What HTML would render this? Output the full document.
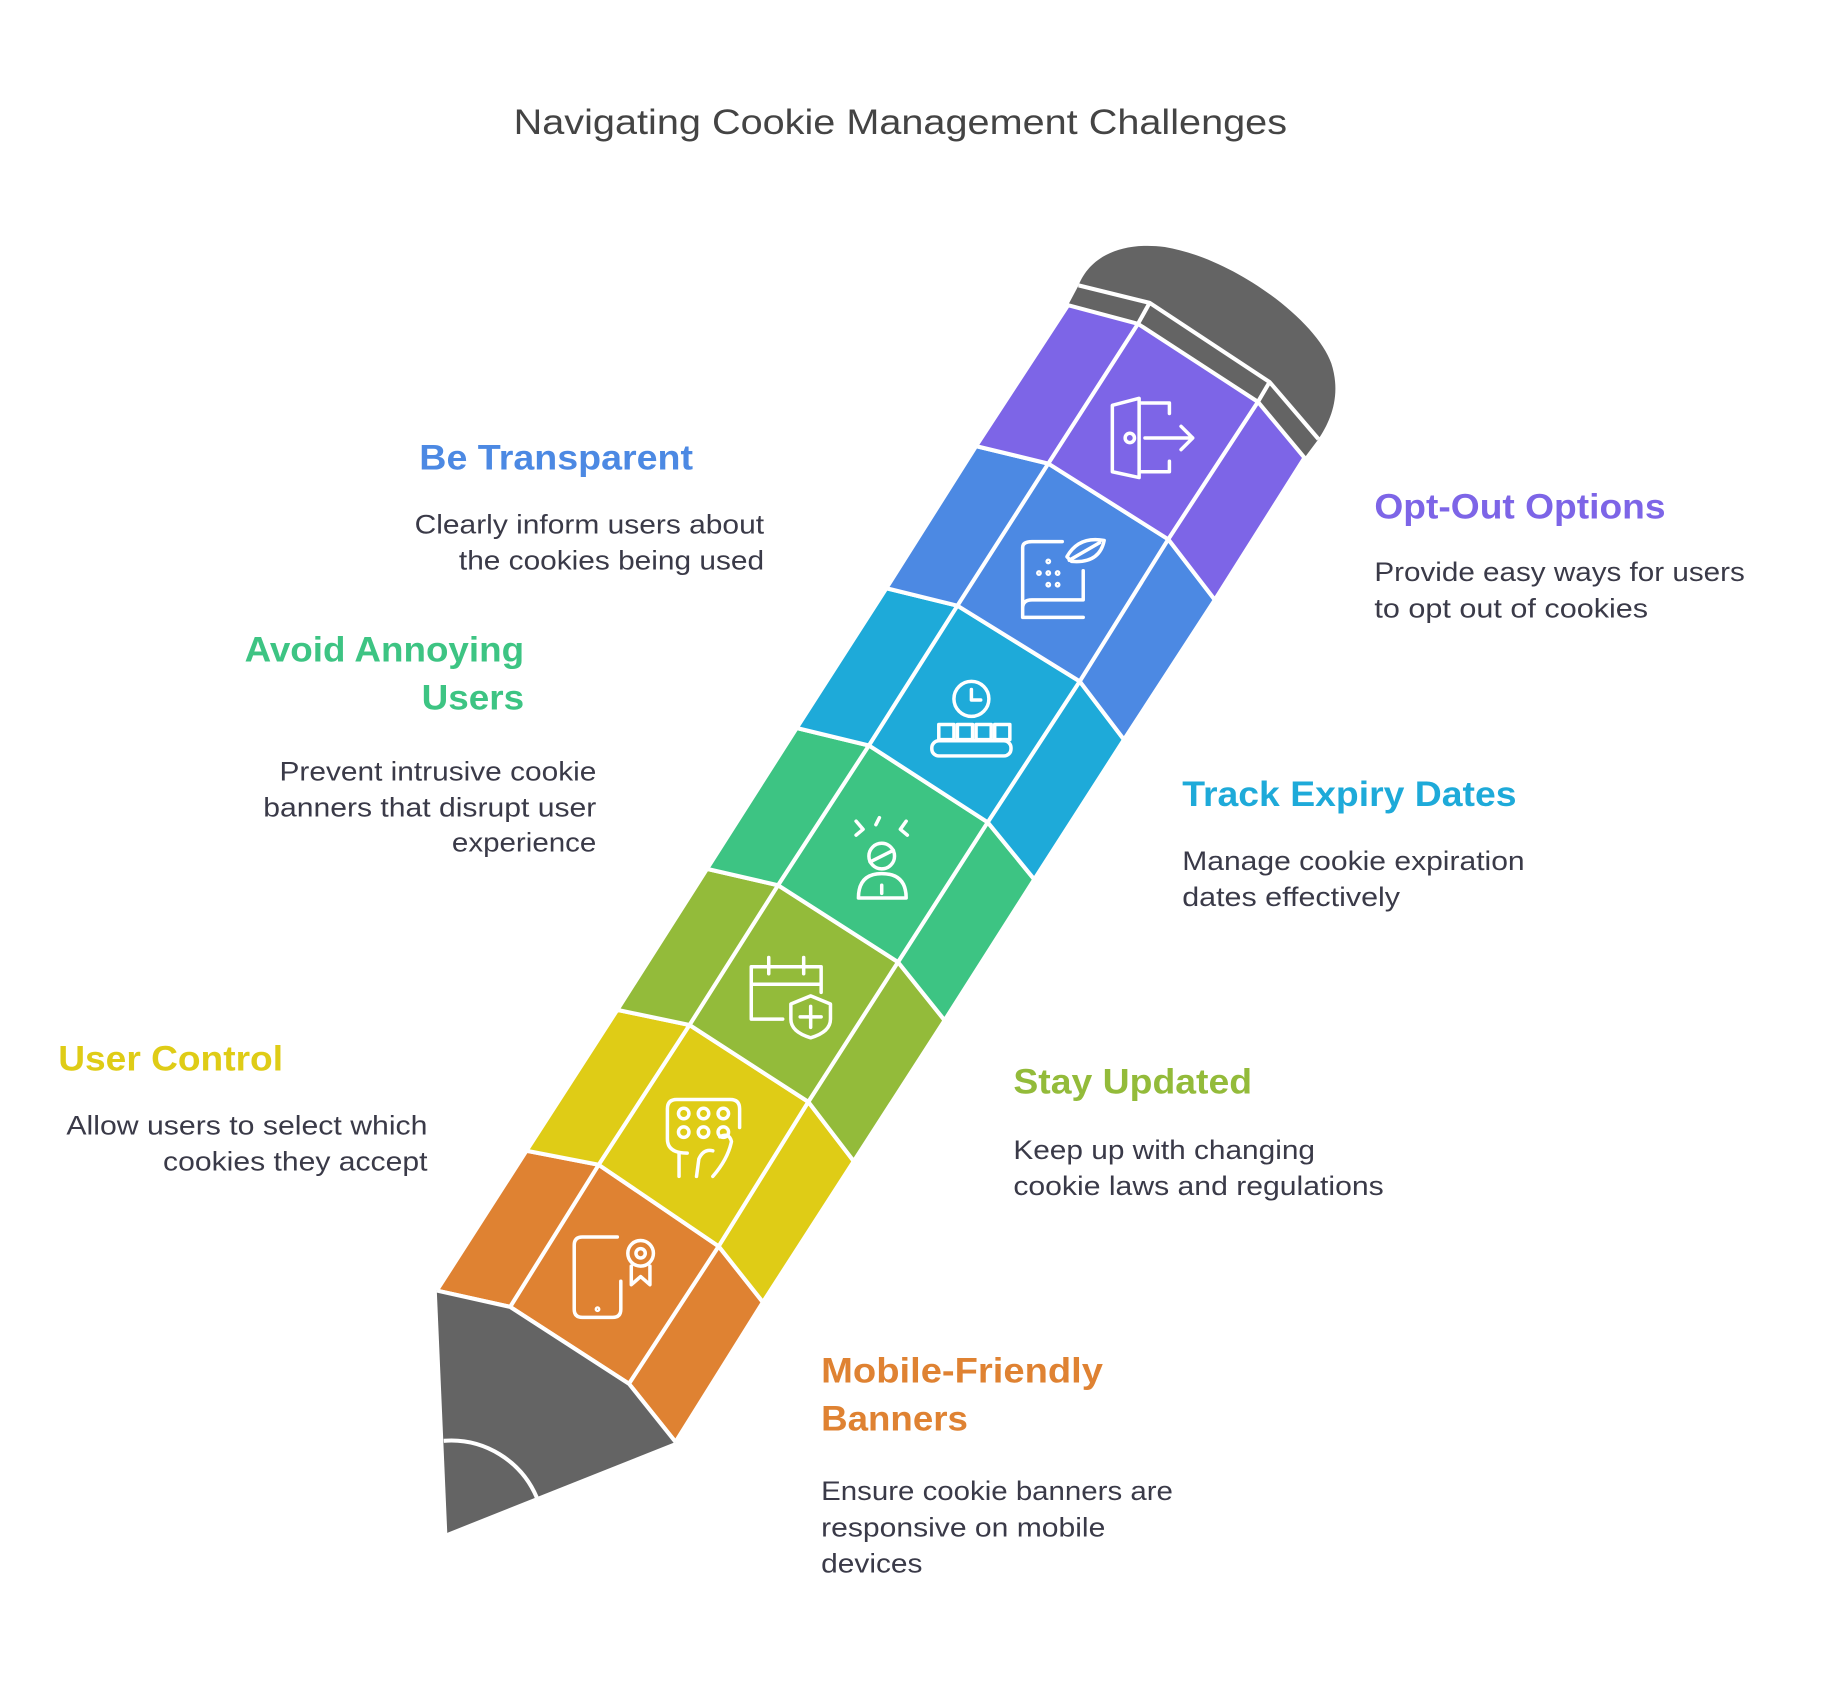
<!DOCTYPE html>
<html><head><meta charset="utf-8"><style>
html,body{margin:0;padding:0;background:#fff;}
svg{display:block;}
text{font-family:"Liberation Sans",sans-serif;}
.h{font-weight:bold;font-size:30px;}
.b{font-size:23px;fill:#3a3a48;}
</style></head><body>
<svg width="1824" height="1681" viewBox="0 0 1566 1443.2" xmlns="http://www.w3.org/2000/svg">
<rect width="1566" height="1444" fill="#fff"/>
<path d="M926,245 C935,222 960,207 1000,212 C1060,222 1130,275 1143,312 C1152,340 1142,362 1132,377 L1090,328 L987,260 Z" fill="#646464"/>
<polygon points="917,262 977,278 1080,345 1120,393 1132,377 1090,328 987,260 926,245" fill="#646464"/>
<g stroke="#fff" stroke-width="3.5" fill="none" stroke-linejoin="round">
<polyline points="926,245 987,260 1090,328 1132,377"/>
<line x1="977" y1="278" x2="987" y2="260"/><line x1="1080" y1="345" x2="1090" y2="328"/>
</g>
<g stroke="#fff" stroke-width="3.5" stroke-linejoin="round">
<polygon fill="#df8232" points="375,1108 438,1122 540,1188 580,1238 655,1118 617,1070 514,1000 452,988"/>
<polygon fill="#dfcc16" points="452,988 514,1000 617,1070 655,1118 733,997 694,946 592,880 530,867"/>
<polygon fill="#93bb3a" points="530,867 592,880 694,946 733,997 811,876 771,826 668,760 607,746"/>
<polygon fill="#3dc483" points="607,746 668,760 771,826 811,876 888,755 848,706 746,640 684,625"/>
<polygon fill="#1eaad9" points="684,625 746,640 848,706 888,755 965,635 927,585 822,520 761,505"/>
<polygon fill="#4c89e3" points="761,505 822,520 927,585 965,635 1043,515 1003,463 900,398 838,383"/>
<polygon fill="#7d65e7" points="838,383 900,398 1003,463 1043,515 1120,393 1080,345 977,278 917,262"/>
</g>
<g stroke="#fff" stroke-width="3.5" fill="none">
<polyline points="438,1122 514,1000 592,880 668,760 746,640 822,520 900,398 977,278"/>
<polyline points="540,1188 617,1070 694,946 771,826 848,706 927,585 1003,463 1080,345"/>
</g>
<polygon fill="#646464" points="375,1108 438,1122 540,1188 580,1238 384,1316"/>
<g stroke="#fff" stroke-width="3.5" fill="none">
<polyline points="375,1108 438,1122 540,1188 580,1238"/>
<path d="M381,1237 A80,80 0 0 1 461,1286"/>
</g>
<g stroke="#fff" stroke-width="3" fill="none" stroke-linecap="round" stroke-linejoin="round">
<path d="M955,348 L978,342 L978,410 L955,405 Z"/><circle cx="970" cy="376" r="4"/>
<path d="M980,346 L1004,346 L1004,355 M1004,396 L1004,405 L980,405 M983,376 L1024,376 M1014,366 L1024,376 L1014,386"/>
<path d="M878,470 L878,530 L930,530 M878,522 Q878,515 886,515 L930,515 L930,490 M878,470 Q878,465 886,465 L912,465"/>
<path d="M916,478 Q926,460 948,464 Q944,484 920,482 Z M918,481 L944,466"/>
<circle cx="900" cy="482" r="1" /><circle cx="892" cy="492" r="1"/><circle cx="900" cy="492" r="1"/><circle cx="908" cy="492" r="1"/><circle cx="900" cy="502" r="1"/><circle cx="908" cy="502" r="1"/>
<circle cx="834" cy="600" r="15"/><path d="M834,592 L834,601 L842,601"/>
<rect x="800" y="636" width="68" height="13" rx="6"/>
<rect x="806" y="622" width="13" height="13"/><rect x="822" y="622" width="13" height="13"/><rect x="838" y="622" width="13" height="13"/><rect x="854" y="622" width="13" height="13"/>
<circle cx="757" cy="735" r="11"/><path d="M747,740 L767,730"/>
<path d="M737,771 Q737,750 757,750 Q778,750 778,771 Z M757,760 L757,767"/>
<path d="M735,705 L741,712 L735,717 M755,702 L752,708 M778,705 L773,712 L779,717"/>
<path d="M672,875 L645,875 L645,830 L705,830 L705,852 M645,845 L705,845 M660,822 L660,836 M690,822 L690,836"/>
<path d="M696,855 L713,862 L713,875 Q713,886 696,891 Q679,886 679,875 L679,862 Z M696,864 L696,882 M687,873 L705,873"/>
<path d="M590,990 Q573,990 573,978 L573,952 Q573,944 581,944 L627,944 Q635,944 635,952 L635,968"/>
<circle cx="587" cy="956" r="4.5"/><circle cx="604" cy="956" r="4.5"/><circle cx="621" cy="956" r="4.5"/>
<circle cx="587" cy="972" r="4.5"/><circle cx="604" cy="972" r="4.5"/><circle cx="621" cy="972" r="4.5"/>
<path d="M583,990 L583,1010 M598,1010 L600,995 Q604,986 612,988 M612,1010 Q625,995 628,980 Q626,972 618,976"/>
<path d="M530,1062 L500,1062 Q493,1062 493,1069 L493,1124 Q493,1131 500,1131 L526,1131 Q533,1131 533,1124 L533,1100"/>
<circle cx="513" cy="1124" r="1"/>
<circle cx="550" cy="1076" r="11"/><circle cx="550" cy="1076" r="4"/>
<path d="M542,1087 L542,1103 L550,1096 L558,1103 L558,1087"/>
</g>
<text x="773" y="115" text-anchor="middle" font-size="30" fill="#444" textLength="664" lengthAdjust="spacingAndGlyphs">Navigating Cookie Management Challenges</text>

<text class="h" x="595" y="403" text-anchor="end" fill="#4c89e3" textLength="235" lengthAdjust="spacingAndGlyphs">Be Transparent</text>
<text class="b" x="656" y="458" text-anchor="end" textLength="300" lengthAdjust="spacingAndGlyphs">Clearly inform users about</text>
<text class="b" x="656" y="489" text-anchor="end" textLength="262" lengthAdjust="spacingAndGlyphs">the cookies being used</text>

<text class="h" x="450" y="568" text-anchor="end" fill="#3dc483" textLength="240" lengthAdjust="spacingAndGlyphs">Avoid Annoying</text>
<text class="h" x="450" y="609" text-anchor="end" fill="#3dc483" textLength="88" lengthAdjust="spacingAndGlyphs">Users</text>
<text class="b" x="512" y="670" text-anchor="end" textLength="272" lengthAdjust="spacingAndGlyphs">Prevent intrusive cookie</text>
<text class="b" x="512" y="701" text-anchor="end" textLength="286" lengthAdjust="spacingAndGlyphs">banners that disrupt user</text>
<text class="b" x="512" y="731" text-anchor="end" textLength="124" lengthAdjust="spacingAndGlyphs">experience</text>

<text class="h" x="50" y="919" fill="#dfcc16" textLength="193" lengthAdjust="spacingAndGlyphs">User Control</text>
<text class="b" x="367" y="974" text-anchor="end" textLength="310" lengthAdjust="spacingAndGlyphs">Allow users to select which</text>
<text class="b" x="367" y="1005" text-anchor="end" textLength="227" lengthAdjust="spacingAndGlyphs">cookies they accept</text>

<text class="h" x="1180" y="445" fill="#7d65e7" textLength="250" lengthAdjust="spacingAndGlyphs">Opt-Out Options</text>
<text class="b" x="1180" y="499" textLength="318" lengthAdjust="spacingAndGlyphs">Provide easy ways for users</text>
<text class="b" x="1180" y="530" textLength="235" lengthAdjust="spacingAndGlyphs">to opt out of cookies</text>

<text class="h" x="1015" y="692" fill="#1eaad9" textLength="287" lengthAdjust="spacingAndGlyphs">Track Expiry Dates</text>
<text class="b" x="1015" y="747" textLength="294" lengthAdjust="spacingAndGlyphs">Manage cookie expiration</text>
<text class="b" x="1015" y="778" textLength="187" lengthAdjust="spacingAndGlyphs">dates effectively</text>

<text class="h" x="870" y="939" fill="#93bb3a" textLength="205" lengthAdjust="spacingAndGlyphs">Stay Updated</text>
<text class="b" x="870" y="995" textLength="259" lengthAdjust="spacingAndGlyphs">Keep up with changing</text>
<text class="b" x="870" y="1026" textLength="318" lengthAdjust="spacingAndGlyphs">cookie laws and regulations</text>

<text class="h" x="705" y="1187" fill="#df8232" textLength="242" lengthAdjust="spacingAndGlyphs">Mobile-Friendly</text>
<text class="h" x="705" y="1228" fill="#df8232" textLength="126" lengthAdjust="spacingAndGlyphs">Banners</text>
<text class="b" x="705" y="1288" textLength="302" lengthAdjust="spacingAndGlyphs">Ensure cookie banners are</text>
<text class="b" x="705" y="1319" textLength="244" lengthAdjust="spacingAndGlyphs">responsive on mobile</text>
<text class="b" x="705" y="1350" textLength="87" lengthAdjust="spacingAndGlyphs">devices</text>
</svg>
</body></html>
